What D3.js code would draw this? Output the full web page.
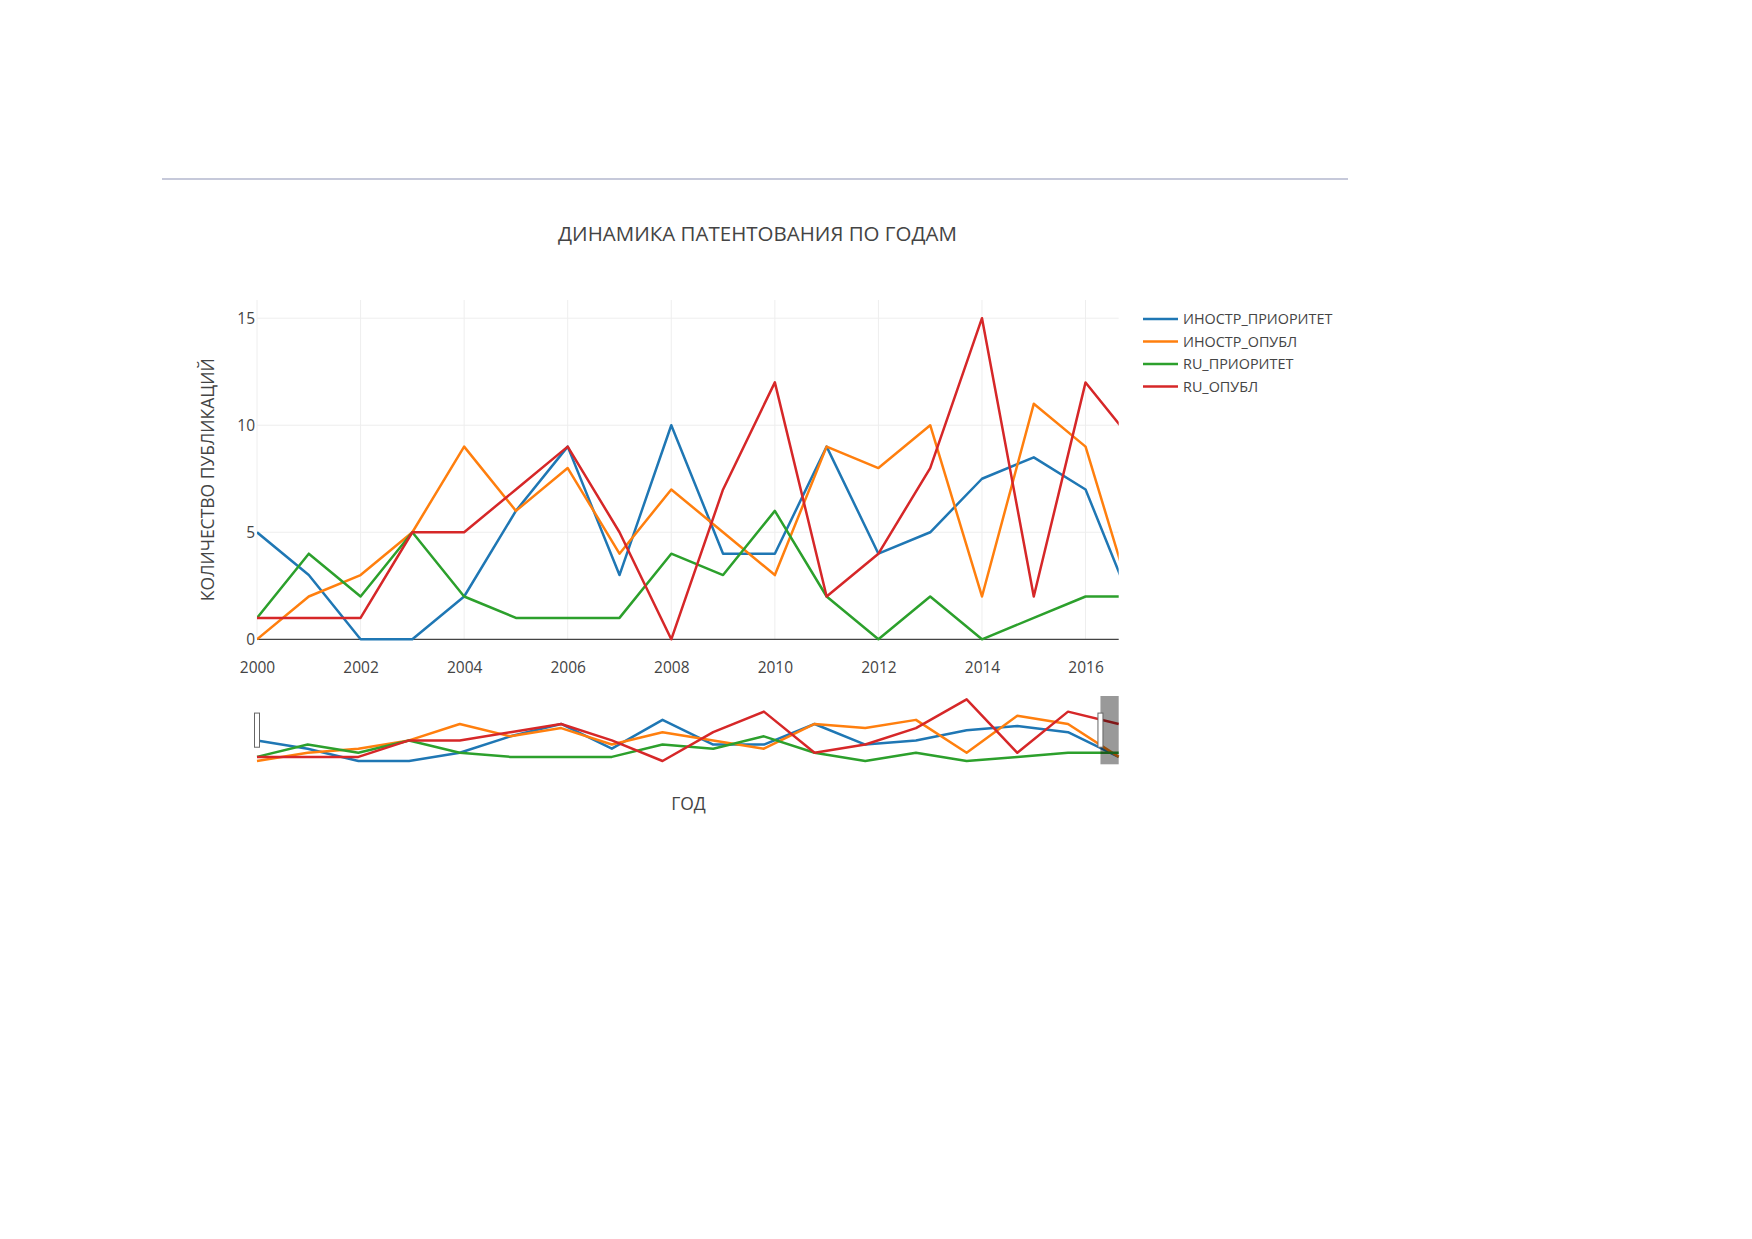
<!DOCTYPE html>
<html lang="ru">
  <head>
    <meta charset="UTF-8" />
    <title>Динамика патентования по годам</title>
    <script src="https://d3js.org/d3.v7.min.js"></script>
    <style>
      body {
        margin: 0;
        padding: 0;
        background: #fff;
        font-family: "Open Sans", Arial, sans-serif;
      }
      .tick text {
        fill: #444;
        font-family: "Open Sans", Arial, sans-serif;
      }
      .series {
        fill: none;
        stroke-width: 2.5;
        stroke-linejoin: round;
      }
    </style>
  </head>
  <body>
    <svg id="chart" width="1752" height="1239"></svg>

    <script>
      const years = [2000, 2001, 2002, 2003, 2004, 2005, 2006, 2007, 2008,
        2009, 2010, 2011, 2012, 2013, 2014, 2015, 2016, 2017];
      const seriesNames = ["ИНОСТР_ПРИОРИТЕТ", "ИНОСТР_ОПУБЛ", "RU_ПРИОРИТЕТ", "RU_ОПУБЛ"];
      const inostrPrioritet = [5, 3, 0, 0, 2, 6, 9, 3, 10, 4, 4, 9, 4, 5, 7.5, 8.5, 7, 1];
      const inostrOpubl = [0, 2, 3, 5, 9, 6, 8, 4, 7, 5, 3, 9, 8, 10, 2, 11, 9, 1];
      const ruPrioritet = [1, 4, 2, 5, 2, 1, 1, 1, 4, 3, 6, 2, 0, 2, 0, 1, 2, 2];
      const ruOpubl = [1, 1, 1, 5, 5, 7, 9, 5, 0, 7, 12, 2, 4, 8, 15, 2, 12, 9];
      const xTicks = [2000, 2002, 2004, 2006, 2008, 2010, 2012, 2014, 2016];
      const yTicks = [0, 5, 10, 15];
      const visibleRange = [2000, 2016.64];

      const colors = ["#1f77b4", "#ff7f0e", "#2ca02c", "#d62728"];
      const seriesValues = [inostrPrioritet, inostrOpubl, ruPrioritet, ruOpubl];
      const series = seriesNames.map((name, i) => ({
        name,
        color: colors[i],
        points: years.map((y, j) => [y, seriesValues[i][j]]),
      }));

      const svg = d3.select("#chart");

      // separator line above the chart
      svg.append("line")
        .attr("x1", 162).attr("x2", 1348)
        .attr("y1", 179).attr("y2", 179)
        .attr("stroke", "#c6c9da")
        .attr("stroke-width", 2);

      // main plot area
      const plot = { left: 257, right: 1118.7, top: 300, bottom: 639.3 };

      const x = d3.scaleLinear().domain(visibleRange).range([plot.left, plot.right]);
      const y = d3.scaleLinear().domain([0, 15.85]).range([plot.bottom, plot.top]);

      svg.append("text")
        .attr("x", 757.5)
        .attr("y", 241)
        .attr("text-anchor", "middle")
        .attr("fill", "#444")
        .style("font-size", "20.5px")
        .text("ДИНАМИКА ПАТЕНТОВАНИЯ ПО ГОДАМ");

      // grid
      const grid = svg.append("g");
      grid.selectAll("line.vx")
        .data(xTicks)
        .enter()
        .append("line")
        .attr("x1", (d) => x(d)).attr("x2", (d) => x(d))
        .attr("y1", plot.top).attr("y2", plot.bottom)
        .attr("stroke", "#eee").attr("stroke-width", 1);
      grid.selectAll("line.hy")
        .data(yTicks.filter((d) => d !== 0))
        .enter()
        .append("line")
        .attr("x1", plot.left).attr("x2", plot.right)
        .attr("y1", (d) => y(d)).attr("y2", (d) => y(d))
        .attr("stroke", "#eee").attr("stroke-width", 1);

      // axes
      const xAxis = svg.append("g")
        .attr("transform", `translate(0, ${plot.bottom + 23})`)
        .call(d3.axisBottom(x).tickValues(xTicks).tickSize(0).tickFormat(d3.format("d")));
      xAxis.select(".domain").remove();
      xAxis.selectAll("text").style("font-size", "15.5px").attr("dy", "0.71em").attr("y", 0);

      const yAxis = svg.append("g")
        .attr("transform", `translate(${plot.left - 2}, 0)`)
        .call(d3.axisLeft(y).tickValues(yTicks).tickSize(0));
      yAxis.select(".domain").remove();
      yAxis.selectAll("text").style("font-size", "15.5px").attr("x", 0);

      svg.append("text")
        .attr("transform", `translate(214, ${(plot.top + plot.bottom) / 2 + 10}) rotate(-90)`)
        .attr("text-anchor", "middle")
        .attr("fill", "#444")
        .style("font-size", "17.5px")
        .text("КОЛИЧЕСТВО ПУБЛИКАЦИЙ");

      // lines, clipped to the visible range
      svg.append("clipPath")
        .attr("id", "plot-clip")
        .append("rect")
        .attr("x", plot.left).attr("y", plot.top - 5)
        .attr("width", plot.right - plot.left)
        .attr("height", plot.bottom - plot.top + 10);

      const line = d3.line().x((d) => x(d[0])).y((d) => y(d[1]));

      // zero line
      svg.append("line")
        .attr("x1", plot.left).attr("x2", plot.right)
        .attr("y1", y(0)).attr("y2", y(0))
        .attr("stroke", "#444").attr("stroke-width", 1.3);

      svg.append("g")
        .attr("clip-path", "url(#plot-clip)")
        .selectAll("path")
        .data(series)
        .enter()
        .append("path")
        .attr("class", "series")
        .attr("stroke", (d) => d.color)
        .attr("d", (d) => line(d.points));

      // legend
      const legend = svg.append("g").attr("transform", "translate(1143, 319)");
      const legendItems = legend.selectAll("g")
        .data(series)
        .enter()
        .append("g")
        .attr("transform", (d, i) => `translate(0, ${i * 22.5})`);
      legendItems.append("line")
        .attr("x1", 0).attr("x2", 35)
        .attr("stroke", (d) => d.color)
        .attr("stroke-width", 2.5);
      legendItems.append("text")
        .attr("x", 40)
        .attr("dy", "0.36em")
        .attr("fill", "#444")
        .style("font-size", "14.4px")
        .text((d) => d.name);

      // range slider
      const slider = { top: 696, bottom: 764.3 };
      const sx = d3.scaleLinear().domain(d3.extent(years)).range([plot.left, plot.right]);
      const sy = d3.scaleLinear().domain([-0.8, 15.8]).range([slider.bottom, slider.top]);
      const sliderLine = d3.line().x((d) => sx(d[0])).y((d) => sy(d[1]));

      svg.append("g")
        .selectAll("path")
        .data(series)
        .enter()
        .append("path")
        .attr("class", "series")
        .attr("stroke", (d) => d.color)
        .attr("d", (d) => sliderLine(d.points));

      // mask outside the selected range
      svg.append("rect")
        .attr("x", sx(visibleRange[1]))
        .attr("y", slider.top)
        .attr("width", sx(years[years.length - 1]) - sx(visibleRange[1]))
        .attr("height", slider.bottom - slider.top)
        .attr("fill", "rgba(0,0,0,0.4)");

      const handleH = (slider.bottom - slider.top) / 2;
      svg.selectAll("rect.handle")
        .data(visibleRange)
        .enter()
        .append("rect")
        .attr("class", "handle")
        .attr("x", (d) => sx(d) - 2.5)
        .attr("y", slider.top + handleH / 2)
        .attr("width", 5)
        .attr("height", handleH)
        .attr("fill", "#fff")
        .attr("stroke", "#666")
        .attr("stroke-width", 1);

      svg.append("text")
        .attr("x", 688.5)
        .attr("y", 810)
        .attr("text-anchor", "middle")
        .attr("fill", "#444")
        .style("font-size", "17.5px")
        .text("ГОД");
    </script>
  </body>
</html>
